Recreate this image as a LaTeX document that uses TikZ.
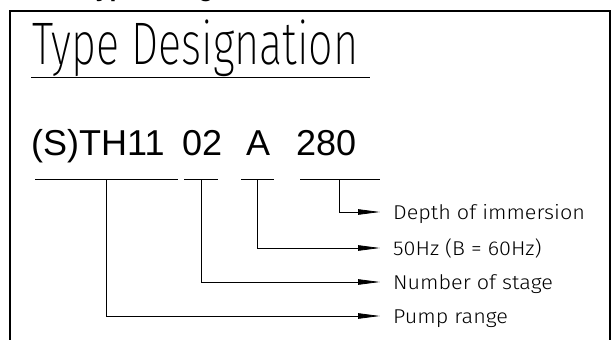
\documentclass[tikz,border=0pt]{standalone}
\usepackage{fontspec}
\setmainfont{Liberation Sans}
\IfFontExistsTF{Fira Sans Light}
  {\newfontfamily\cadfont{Fira Sans Light}[FakeStretch=1.08]}
  {\newfontfamily\cadfont{Fira Sans}[FakeStretch=1.08]}
\IfFontExistsTF{Fira Sans ExtraLight}
  {\newfontfamily\cadthin{Fira Sans ExtraLight}[FakeStretch=0.72]}
  {\IfFontExistsTF{Fira Sans Light}
    {\newfontfamily\cadthin{Fira Sans Light}[FakeStretch=0.72]}
    {\newfontfamily\cadthin{Fira Sans}[FakeStretch=0.72]}}
\usetikzlibrary{arrows.meta, positioning}
\tikzstyle{code} = [inner sep=0pt, anchor=base west, font=\fontsize{36}{36}\selectfont]
\tikzstyle{meaning} = [inner xsep=13pt, inner ysep=0pt, text height=14pt, text depth=0pt,
  anchor=west, font=\cadfont\fontsize{20}{20}\selectfont]
\tikzstyle{leader} = [line width=0.8pt, -{Triangle[length=22pt, width=5.5pt]}]
\tikzstyle{rule} = [line width=0.8pt]

\begin{document}
\begin{tikzpicture}[x=1pt, y=-1pt]
  \useasboundingbox (0,0) rectangle (614,340);
  \clip (0,0) rectangle (614,340);
  % heading cut off by the page edge
  \node[inner sep=0pt, anchor=base west, font=\bfseries\fontsize{25}{25}\selectfont]
    (heading) at (82,-3) {Type Designation};
  % frame
  \draw[line width=1.6pt] (10,350) -- (10,11) -- (610,11) -- (610,350);
  \node[inner sep=0pt, anchor=base west, font=\cadthin\fontsize{60}{60}\selectfont]
    (title) at (32,64) {Type Designation};
  \draw[rule] (31,77) -- (370,77);
  % code parts
  \node[code] (range) at (31,155) {(S)TH11};
  \node[code] (stage) at (182,155) {02};
  \node[code] (freq) at (246,155) {A};
  \node[code] (depth) at (296,155) {280};
  \draw[rule] (35,179) -- (178,179);
  \draw[rule] (184,179) -- (218,179);
  \draw[rule] (241,179) -- (274,179);
  \draw[rule] (300,179) -- (380,179);
  \coordinate (t1) at (106,179);
  \coordinate (t2) at (201,179);
  \coordinate (t3) at (257,179);
  \coordinate (t4) at (339,179);
  % meanings
  \node[meaning] (m4) at (380,212) {Depth of immersion};
  \node[meaning] (m3) at (380,248) {50Hz (B = 60Hz)};
  \node[meaning] (m2) at (380,282) {Number of stage};
  \node[meaning] (m1) at (380,316) {Pump range};
  \draw[leader] (t4) |- (m4.west);
  \draw[leader] (t3) |- (m3.west);
  \draw[leader] (t2) |- (m2.west);
  \draw[leader] (t1) |- (m1.west);
\end{tikzpicture}
\end{document}
